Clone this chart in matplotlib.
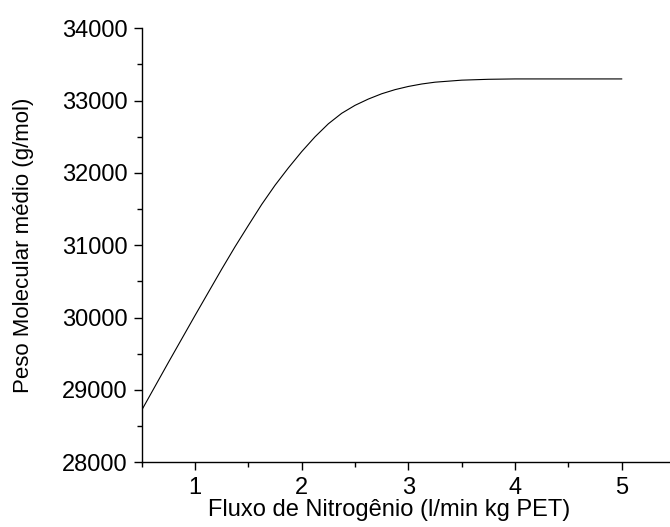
import matplotlib
matplotlib.use("Agg")
import matplotlib.pyplot as plt
from matplotlib.ticker import MultipleLocator

# valores
fluxo = [0.5, 0.75, 1.0, 1.25, 1.375, 1.5, 1.625, 1.75, 1.875, 2.0, 2.125, 2.25,
         2.375, 2.5, 2.625, 2.75, 2.875, 3.0, 3.125, 3.25, 3.5, 3.75, 4.0, 4.5, 5.0]
peso = [28720, 29380, 30030, 30670, 30980, 31275, 31565, 31830, 32070, 32295, 32500, 32680,
        32825, 32935, 33022, 33095, 33152, 33196, 33230, 33255, 33283, 33295, 33300, 33300, 33300]

xticks = [1, 2, 3, 4, 5]
yticks = [28000, 29000, 30000, 31000, 32000, 33000, 34000]

plt.rcParams['font.family'] = ['Liberation Sans', 'DejaVu Sans']

fig = plt.figure(figsize=(6.7, 5.27), dpi=100)
ax = fig.add_axes([0.2115, 0.1228, 0.796, 0.8235])

ax.plot(fluxo, peso, color='black', lw=0.8)

ax.set_xlim(0.5, 5.5)
ax.set_ylim(28000, 34000)
ax.set_xticks(xticks)
ax.set_yticks(yticks)
ax.xaxis.set_minor_locator(MultipleLocator(0.5))
ax.yaxis.set_minor_locator(MultipleLocator(500))

for s in ['top', 'right']:
    ax.spines[s].set_visible(False)
for s in ['left', 'bottom']:
    ax.spines[s].set_linewidth(1.0)

ax.tick_params(which='major', direction='out', length=6, width=1.0, labelsize=17, pad=4)
ax.tick_params(which='minor', direction='out', length=3.5, width=1.0)
ax.tick_params(axis='x', which='major', length=5.5, pad=5)

ax.set_xlabel('Fluxo de Nitrogênio (l/min kg PET)', fontsize=17)
ax.xaxis.set_label_coords(0.4636, -0.084)
ax.set_ylabel('Peso Molecular médio (g/mol)', fontsize=16, labelpad=20)

fig.savefig('out.png', dpi=100)
